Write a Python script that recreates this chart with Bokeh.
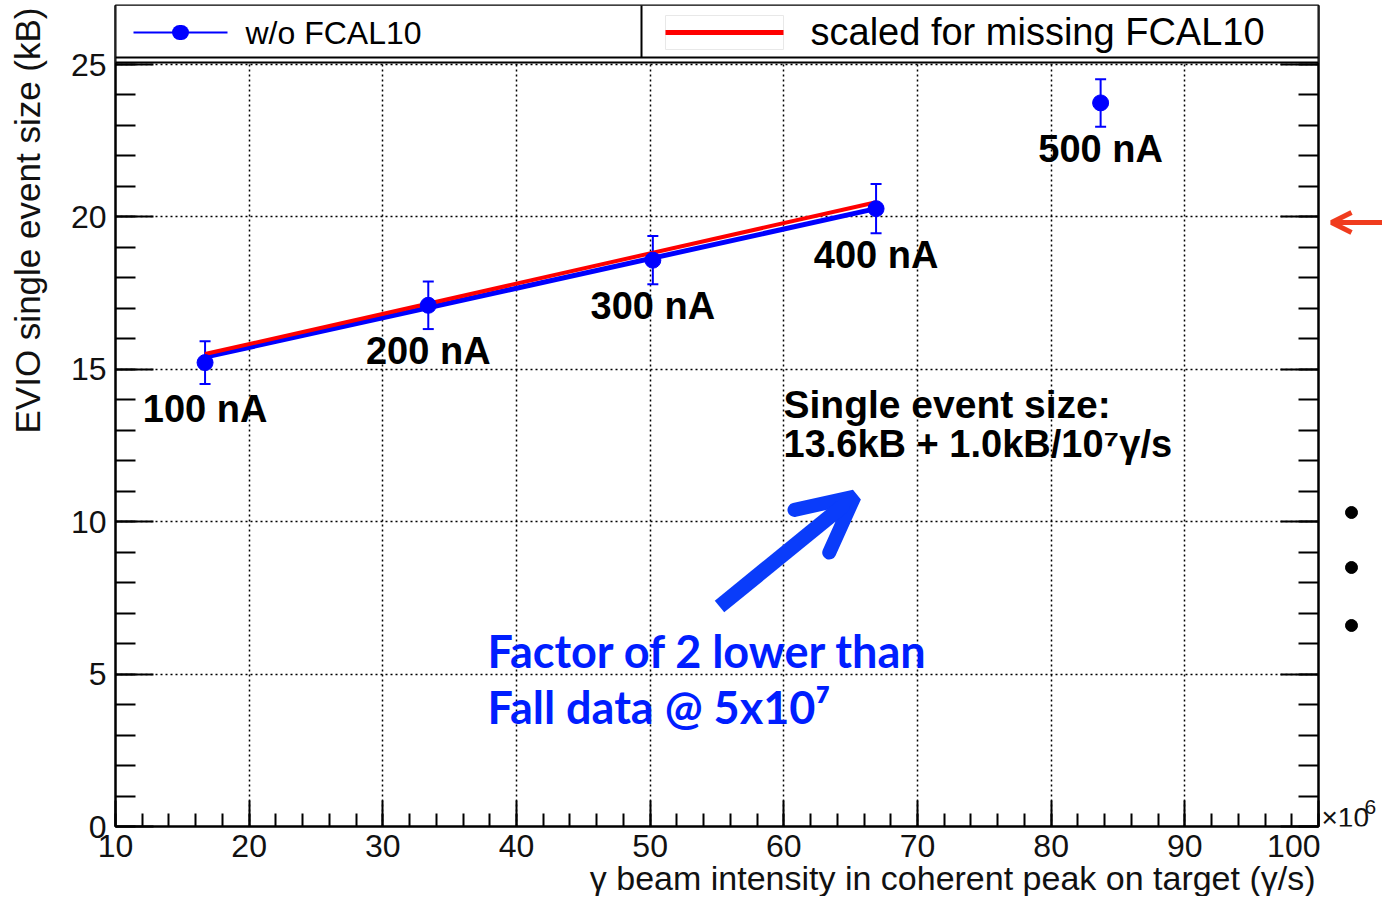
from math import pi
from bokeh.plotting import figure
from bokeh.layouts import row
from bokeh.models import (Range1d, LinearAxis, FixedTicker, Whisker, TeeHead, Title,
                          ColumnDataSource, Label, Arrow, OpenHead, BoxAnnotation)
from bokeh.core.properties import value
from bokeh.embed import file_html
from bokeh.resources import INLINE

# ---------------- data ----------------
intensity = [16.7, 33.4, 50.2, 66.9, 83.7]          # x10^6 gamma/s
event_size = [15.22, 17.10, 18.58, 20.27, 23.74]    # kB
event_err = [0.70, 0.78, 0.79, 0.81, 0.78]          # kB
currents = ["100 nA", "200 nA", "300 nA", "400 nA", "500 nA"]
fit_x = [16.7, 66.9]
fit_wo = [15.40, 20.27]        # fit, w/o FCAL10
fit_scaled = [15.50, 20.48]    # scaled for missing FCAL10
x_ticks = list(range(10, 101, 10))
x_minor = list(range(10, 101, 2))
y_ticks = list(range(0, 26, 5))
y_minor = list(range(0, 26, 1))
x_title = "\u03b3 beam intensity in coherent peak on target (\u03b3/s)"
y_title = "EVIO single event size (kB)"

FONT = "Liberation Sans"
BLUE = "#0000ff"

# layout geometry (pixels)
W_LEFT, W_MAIN, W_SIDE, H = 50, 1270, 62, 896
FR_L, FR_R, FR_T, FR_B = 115, 1318, 5, 826      # frame incl. legend strip (page px)
Y0_PX, Y25_PX = 826, 64                          # pixel rows of y = 0 and y = 25
KB_PER_PX = 25.0 / (Y0_PX - Y25_PX)
y_top = (FR_B - FR_T) * KB_PER_PX


def X(px):
    return 10 + (px - FR_L) * 90.0 / (FR_R - FR_L)


def Y(py):
    return (Y0_PX - py) * KB_PER_PX


p = figure(width=W_MAIN, height=H, output_backend="svg", toolbar_location=None,
           x_range=Range1d(10, 100), y_range=Range1d(0, y_top),
           min_border_left=FR_L - W_LEFT, min_border_right=W_LEFT + W_MAIN - FR_R,
           min_border_top=FR_T, min_border_bottom=H - FR_B,
           background_fill_color="white", border_fill_color="white")
p.outline_line_color = "black"
p.outline_line_width = 2

xt = FixedTicker(ticks=x_ticks, minor_ticks=x_minor)
yt = FixedTicker(ticks=y_ticks, minor_ticks=y_minor)

xa = p.xaxis[0]
xa.ticker = xt
ya = p.yaxis[0]
ya.ticker = yt
ra = LinearAxis(ticker=yt)
p.add_layout(ra, "right")
for ax in (xa, ya, ra):
    ax.axis_line_color = "black"
    ax.axis_line_width = 2
    ax.major_tick_line_color = "black"
    ax.minor_tick_line_color = "black"
    ax.major_tick_line_width = 2
    ax.minor_tick_line_width = 2
    ax.major_tick_out = 0
    ax.minor_tick_out = 0
    ax.major_label_text_font = FONT
    ax.major_label_text_font_size = "32px"
    ax.major_label_text_color = "#111111"
xa.major_tick_in = 26
xa.minor_tick_in = 13
xa.major_label_standoff = 8
ya.major_tick_in = ra.major_tick_in = 38
ya.minor_tick_in = ra.minor_tick_in = 20
ya.major_label_standoff = 9
ra.major_label_text_font_size = "0px"
ra.major_label_text_color = None
ra.major_label_standoff = 0

# x axis title, right aligned as in ROOT
p.add_layout(Title(text=x_title, align="right", standoff=-6, offset=3,
                   text_font=FONT, text_font_style="normal", text_font_size="34px",
                   text_color="#111111"), "below")

p.xgrid.ticker = xt
p.ygrid.ticker = yt
for g in (p.xgrid, p.ygrid):
    g.grid_line_color = "black"
    g.grid_line_dash = "2 3"
    g.grid_line_width = 1.5

# ---------------- marks ----------------
p.line(fit_x, fit_wo, line_color=BLUE, line_width=5)
p.line(fit_x, fit_scaled, line_color="red", line_width=4)

src = ColumnDataSource(dict(
    x=intensity, y=event_size,
    upper=[v + e for v, e in zip(event_size, event_err)],
    lower=[v - e for v, e in zip(event_size, event_err)],
    label=currents))
p.add_layout(Whisker(source=src, base="x", upper="upper", lower="lower", dimension="height",
                     line_color=BLUE, line_width=2,
                     upper_head=TeeHead(size=11, line_color=BLUE, line_width=2),
                     lower_head=TeeHead(size=11, line_color=BLUE, line_width=2)))
p.scatter("x", "y", source=src, size=16, color=BLUE)
p.text("x", "y", text="label", source=src, y_offset=46, text_align="center",
       text_baseline="middle", text_font=value(FONT), text_font_style="bold",
       text_font_size="38px", text_color="black")


# ---------------- annotations (positions in reference pixels) ----------------
def seg(x0, y0, x1, y1, color="black", w=2, cap="butt"):
    p.add_layout(Arrow(start=None, end=None, x_start=X(x0), y_start=Y(y0),
                       x_end=X(x1), y_end=Y(y1), line_color=color, line_width=w,
                       line_cap=cap))


def label(px, py, text, size, color="black", font=FONT, style="normal",
          align="left", baseline="middle"):
    p.add_layout(Label(x=X(px), y=Y(py), text=text, text_font=font,
                       text_font_size=size, text_font_style=style, text_color=color,
                       text_align=align, text_baseline=baseline))


# legend strip at the top of the frame
p.add_layout(BoxAnnotation(bottom=Y(62), fill_color="white", fill_alpha=1.0,
                           line_color=None))
seg(FR_L, 57, FR_R, 57)
seg(FR_L, 62, FR_R, 62)
seg(FR_L, 4, FR_L, 62)
seg(FR_R, 4, FR_R, 62)
seg(641, 4, 641, 57)
seg(133, 32, 227, 32, BLUE, 2)
seg(179, 32, 181, 32, BLUE, 15, "round")
label(245, 32, "w/o FCAL10", "32px")
for a in [(665, 15, 783, 15), (665, 49, 783, 49), (665, 15, 665, 49), (783, 15, 783, 49)]:
    seg(*a, color="#e8e8e8", w=1)
seg(665, 32, 783, 32, "red", 5)
label(810, 31, "scaled for missing FCAL10", "38px")

# fit text
label(783, 404, "Single event size:", "39px", style="bold")
label(783, 443, "13.6kB + 1.0kB/10\u2077\u03b3/s", "38px", style="bold")

# blue comment + arrow
BL = "#001eff"
label(487, 650, "Factor of 2 lower than", "45px", color=BL, font="Lato", style="bold")
label(487, 706, "Fall data @ 5x10\u2077", "45px", color=BL, font="Lato", style="bold")
AC = "#0a3cfa"
p.add_layout(Arrow(end=OpenHead(size=55, line_width=14, line_color=AC, line_cap="round"),
                   x_start=X(719), y_start=Y(606), x_end=X(854), y_end=Y(496),
                   line_width=15, line_color=AC))


# ---------------- strips left and right of the main plot ----------------
# their frames are aligned with the main frame rows (5..826 px)
def strip(width, x0):
    f = figure(width=width, height=H, output_backend="svg", toolbar_location=None,
               x_range=Range1d(x0, x0 + width), y_range=Range1d(FR_B, FR_T),
               x_axis_type=None, y_axis_type=None, min_border=0,
               background_fill_color="white", border_fill_color="white")
    f.outline_line_color = None
    f.xgrid.visible = False
    f.ygrid.visible = False
    return f


lf = strip(W_LEFT, 0)
lf.text(x=[27], y=[7], text=[y_title], angle=pi / 2, text_align="right",
        text_baseline="middle", text_font=value(FONT), text_font_size="35px",
        text_color="#111111")

s = strip(W_SIDE, W_LEFT + W_MAIN)
s.text(x=[W_LEFT + W_MAIN + 1], y=[817], text=["\u00d710"], text_font=value(FONT),
       text_font_size="28px", text_baseline="middle", text_color="#111111")
s.text(x=[1364], y=[806], text=["6"], text_font=value(FONT),
       text_font_size="21px", text_baseline="middle", text_color="#111111")
RC = "#f03c1e"
s.add_layout(Arrow(end=OpenHead(size=20, line_width=5, line_color=RC),
                   x_start=1400, y_start=222, x_end=1331, y_end=222,
                   line_width=5, line_color=RC))
s.scatter(x=[1351, 1351, 1351], y=[512, 567, 625], size=12, color="black")

layout = row(lf, p, s, spacing=0)
open("out.html", "w").write(file_html(layout, INLINE))
